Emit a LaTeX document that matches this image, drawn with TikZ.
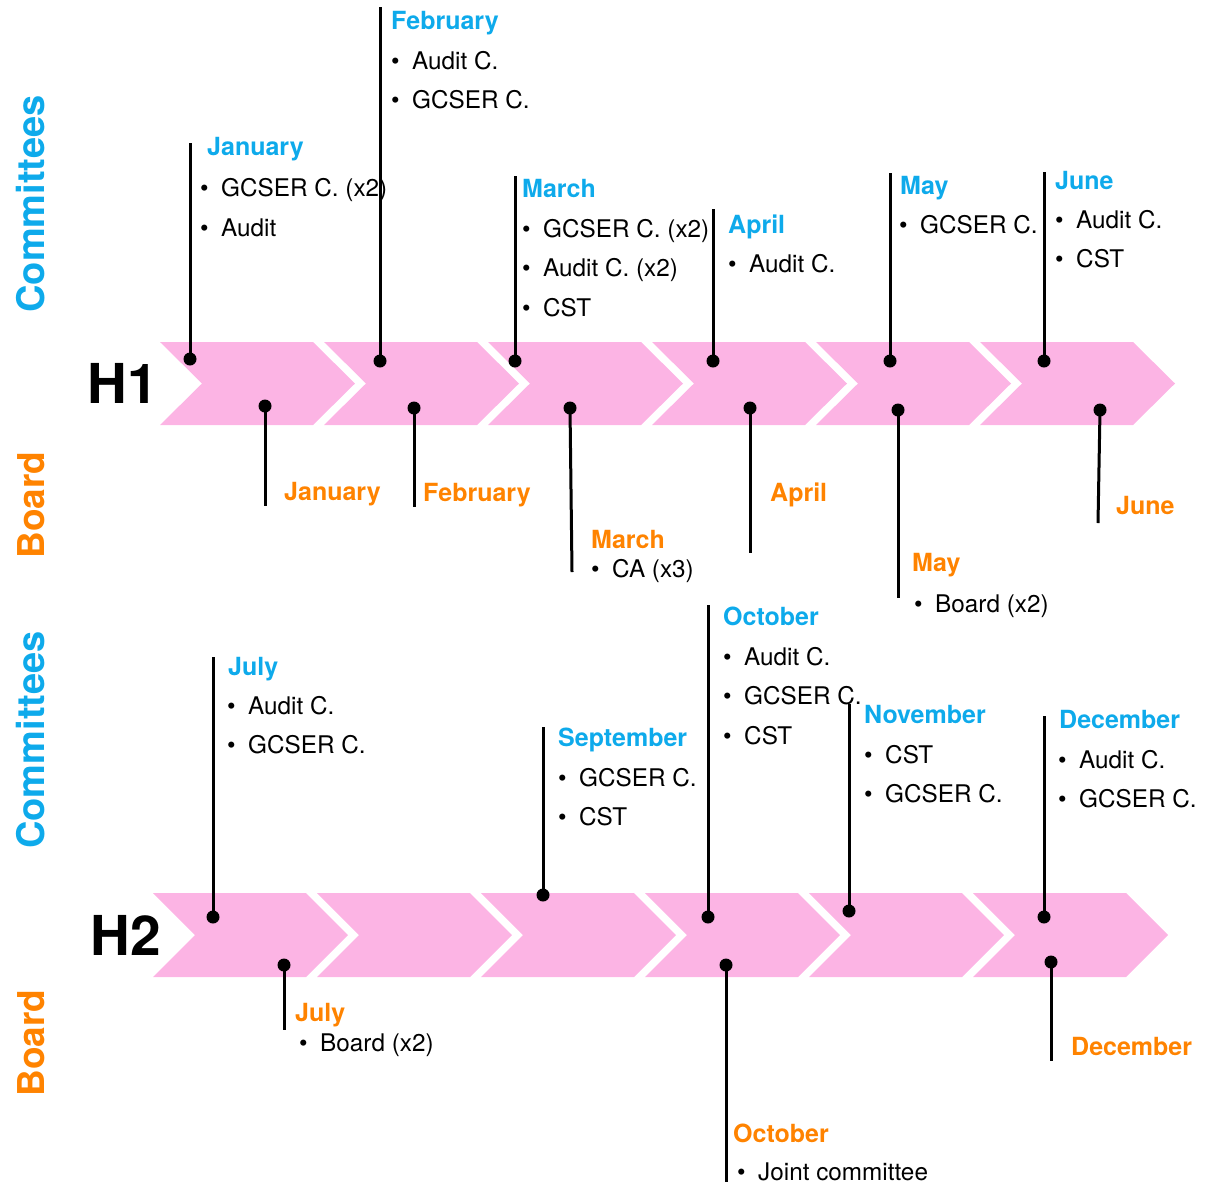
\documentclass[tikz,border=0pt]{standalone}
\usepackage{fontspec}
\setmainfont{TeX Gyre Heros}
\definecolor{cblue}{RGB}{14,170,235}
\definecolor{corange}{RGB}{255,131,0}
\definecolor{cpink}{RGB}{252,180,228}
\tikzset{
 chev/.style={fill=cpink},
 dotn/.style={circle,fill=black,inner sep=0pt,minimum size=13pt},
 stem/.style={line width=3pt,black},
 ctitle/.style={font=\fontsize{25}{28}\selectfont\bfseries,text=cblue,inner sep=0pt},
 btitle/.style={font=\fontsize{25}{28}\selectfont\bfseries,text=corange,inner sep=0pt},
 itemn/.style={font=\fontsize{24.3}{28}\selectfont,inner sep=0pt},
 csidelab/.style={rotate=90,font=\fontsize{38}{40}\selectfont\bfseries,inner sep=0pt,text=cblue},
 bsidelab/.style={rotate=90,font=\fontsize{37}{40}\selectfont\bfseries,inner sep=0pt,text=corange},
 halflab/.style={font=\fontsize{55}{60}\selectfont\bfseries,inner sep=0pt}
}
% name, style, title x, title baseline y, item x, line gap, title, items
\newcommand\mentry[8]{%
 \node[#2,anchor=base west] (#1t) at (#3,#4) {#7};
 \foreach \itm [count=\i] in {#8} {\node[itemn,anchor=base west] (#1\i) at (#5,#4+#6*\i) {\makebox[21pt][l]{\textbullet}\itm};}
}
\begin{document}
\begin{tikzpicture}[x=1pt,y=-1pt]
\useasboundingbox (0,0) rectangle (1214,1184);
% chevrons
\foreach \cx [count=\k] in {160,324,488,652,816,980}
  \fill[chev] (\cx,342) -- (\cx+153,342) -- (\cx+195,383.5) -- (\cx+153,425) -- (\cx,425) -- (\cx+42,383.5) -- cycle;
\foreach \cx [count=\k] in {153,317,481,645,809,973}
  \fill[chev] (\cx,893) -- (\cx+153,893) -- (\cx+195,935) -- (\cx+153,977) -- (\cx,977) -- (\cx+42,935) -- cycle;
% side labels
\node[csidelab] (com1) at (31,204) {Committees};
\node[bsidelab] (brd1) at (31,505) {Board};
\node[csidelab] (com2) at (31,740) {Committees};
\node[bsidelab] (brd2) at (31,1043) {Board};
\node[halflab] (h1) at (123,383) {H1};
\node[halflab] (h2) at (126,935) {H2};
% H1 committees
\mentry{jc}{ctitle}{207}{155.5}{200}{40.5}{January}{GCSER C. (x2), Audit}
\mentry{fc}{ctitle}{391}{29.5}{391}{39.5}{February}{Audit C., GCSER C.}
\mentry{mc}{ctitle}{522}{197.5}{522}{39.5}{March}{GCSER C. (x2), Audit C. (x2), CST}
\mentry{ac}{ctitle}{728}{233.5}{728}{39}{April}{Audit C.}
\mentry{myc}{ctitle}{900}{194.5}{899}{39}{May}{GCSER C.}
\mentry{jnc}{ctitle}{1055}{189.5}{1055}{39}{June}{Audit C., CST}
% H1 board
\node[btitle,anchor=base west] (jbt) at (284,500.5) {January};
\node[btitle,anchor=base west] (fbt) at (423,501.5) {February};
\mentry{mb}{btitle}{591}{548.5}{591}{29}{March}{CA (x3)}
\node[btitle,anchor=base west] (abt) at (770,501.5) {April};
\mentry{myb}{btitle}{912}{571.5}{914}{40.5}{May}{Board (x2)}
\node[btitle,anchor=base west] (jnbt) at (1116,514.5) {June};
% H2 committees
\mentry{jlc}{ctitle}{228}{675.5}{227}{39}{July}{Audit C., GCSER C.}
\mentry{sc}{ctitle}{558}{746.5}{558}{39.5}{September}{GCSER C., CST}
\mentry{oc}{ctitle}{723}{625.5}{723}{39.5}{October}{Audit C., GCSER C., CST}
\mentry{nc}{ctitle}{864}{723.5}{864}{39.5}{November}{CST, GCSER C.}
\mentry{dc}{ctitle}{1059}{728.5}{1058}{39.5}{December}{Audit C., GCSER C.}
% H2 board
\mentry{jlb}{btitle}{295}{1021.5}{299}{30}{July}{Board (x2)}
\mentry{ob}{btitle}{733}{1142.5}{737}{37.5}{October}{Joint committee}
\node[btitle,anchor=base west] (dbt) at (1071,1055.5) {December};
% dots
\node[dotn] (djc) at (190,359) {};
\node[dotn] (dfc) at (380,361) {};
\node[dotn] (dmc) at (515,361) {};
\node[dotn] (dac) at (713,361) {};
\node[dotn] (dmyc) at (890,361) {};
\node[dotn] (djnc) at (1044,361) {};
\node[dotn] (djb) at (265,406) {};
\node[dotn] (dfb) at (414,408) {};
\node[dotn] (dmb) at (570,408) {};
\node[dotn] (dab) at (750,408) {};
\node[dotn] (dmyb) at (898,410) {};
\node[dotn] (djnb) at (1100,410) {};
\node[dotn] (djlc) at (213,917) {};
\node[dotn] (dsc) at (543,895) {};
\node[dotn] (doc) at (708,917) {};
\node[dotn] (dnc) at (849,911) {};
\node[dotn] (ddc) at (1044,917) {};
\node[dotn] (djlb) at (284,965) {};
\node[dotn] (dob) at (726,965) {};
\node[dotn] (ddb) at (1051,962) {};
% stem ends
\coordinate (ejc) at (190,143);
\coordinate (efc) at (380,7);
\coordinate (emc) at (515,176);
\coordinate (eac) at (713,209);
\coordinate (emyc) at (890,173);
\coordinate (ejnc) at (1044,172);
\coordinate (ejb) at (265,506);
\coordinate (efb) at (414,507);
\coordinate (emb) at (572,572);
\coordinate (eab) at (750,553);
\coordinate (emyb) at (898,598);
\coordinate (ejnb) at (1098,523);
\coordinate (ejlc) at (213,657);
\coordinate (esc) at (543,727);
\coordinate (eoc) at (708,605);
\coordinate (enc) at (849,704);
\coordinate (edc) at (1044,716);
\coordinate (ejlb) at (284,1030);
\coordinate (eob) at (726,1182);
\coordinate (edb) at (1051,1061);
\foreach \s in {jc,fc,mc,ac,myc,jnc,jb,fb,mb,ab,myb,jnb,jlc,sc,oc,nc,dc,jlb,ob,db}
  \draw[stem] (d\s.center) -- (e\s);
\end{tikzpicture}
\end{document}
